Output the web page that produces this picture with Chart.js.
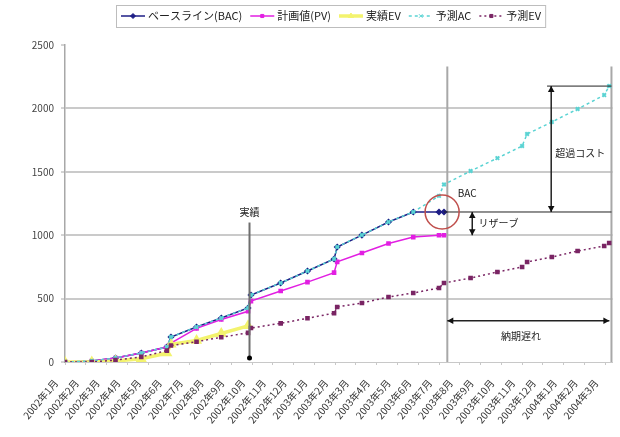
<!DOCTYPE html>
<html lang="ja">
<head>
<meta charset="utf-8">
<title>EVM 予測</title>
<script src="https://cdn.jsdelivr.net/npm/chart.js@4.4.1/dist/chart.umd.min.js"></script>
<style>
  html, body { margin: 0; padding: 0; background: #fff; }
  #wrap { width: 620px; height: 437px; }
</style>
</head>
<body>
<div id="wrap"><canvas id="evmChart" width="620" height="437"></canvas></div>
<script>
// 横軸の月ラベル
const monthLabels = [
  '2002年1月', '2002年2月', '2002年3月', '2002年4月', '2002年5月', '2002年6月',
  '2002年7月', '2002年8月', '2002年9月', '2002年10月', '2002年11月', '2002年12月',
  '2003年1月', '2003年2月', '2003年3月', '2003年4月', '2003年5月', '2003年6月',
  '2003年7月', '2003年8月', '2003年9月', '2003年10月', '2003年11月', '2003年12月',
  '2004年1月', '2004年2月', '2004年3月'
];

// 測定点の位置(2002年1月からの経過月数)
const pointMonths = [
  0, 1.29, 2.43, 3.67, 4.9, 5.1, 6.33, 7.52, 8.81, 8.95, 10.38, 11.67, 12.95, 13.1,
  14.29, 15.57, 16.76, 18.0, 18.24, 19.52, 20.81, 22.0, 22.24, 23.43, 24.67, 25.95, 26.19
];

// 各系列の値 (null = 点なし)
const bacValues = [
  0, 8, 32, 71, 118, 197, 276, 347, 426, 528, 623, 718, 812, 907,
  1001, 1104, 1183, 1183, 1183, null, null, null, null, null, null, null, null
];
const pvValues = [
  0, 8, 32, 71, 118, 150, 265, 335, 400, 480, 560, 630, 705, 790,
  860, 935, 985, 1000, 1000, null, null, null, null, null, null, null, null
];
const evValues = [
  0, 0, 8, 25, 70, 140, 170, 225, 285, null, null, null, null, null,
  null, null, null, null, null, null, null, null, null, null, null, null, null
];
const acValues = [
  0, 8, 32, 71, 118, 197, 276, 347, 426, 528, 623, 718, 812, 907,
  1001, 1104, 1183, 1310, 1400, 1506, 1608, 1703, 1798, 1893, 1995, 2105, 2176
];
const evForecastValues = [
  0, 0, 15, 40, 90, 130, 160, 195, 230, 268, 305, 345, 385, 434,
  465, 513, 544, 584, 623, 662, 710, 749, 789, 828, 875, 915, 938
];

// 注記の位置(月数)
const actualMonth = 8.88;   // 実績の区切り
const nowMonth = 18.4;      // 当初の完了予定
const endMonth = 26.3;      // 予測完了

function toPoints(values) {
  return pointMonths
    .map((m, i) => ({ x: m, y: values[i] }))
    .filter(p => p.y !== null);
}

const FONT = "'Noto Sans CJK JP', 'Noto Sans', sans-serif";

// 矢印の先端
function arrowHead(ctx, x, y, angle, size) {
  ctx.save();
  ctx.translate(x, y);
  ctx.rotate(angle);
  ctx.beginPath();
  ctx.moveTo(0, 0);
  ctx.lineTo(-size, -size * 0.55);
  ctx.lineTo(-size, size * 0.55);
  ctx.closePath();
  ctx.fill();
  ctx.restore();
}

function doubleArrow(ctx, x1, y1, x2, y2) {
  const a = Math.atan2(y2 - y1, x2 - x1);
  ctx.beginPath();
  ctx.moveTo(x1, y1);
  ctx.lineTo(x2, y2);
  ctx.stroke();
  arrowHead(ctx, x2, y2, a, 6);
  arrowHead(ctx, x1, y1, a + Math.PI, 6);
}

// 注記(縦線・矢印・円・テキスト)
const evmMarks = {
  id: 'evmMarks',
  beforeDatasetsDraw(chart) {
    const { ctx, scales: { x, y } } = chart;
    ctx.save();
    ctx.strokeStyle = '#a8a8a8';
    ctx.lineWidth = 2;
    [nowMonth, endMonth].forEach(m => {
      ctx.beginPath();
      ctx.moveTo(x.getPixelForValue(m), y.getPixelForValue(2330));
      ctx.lineTo(x.getPixelForValue(m), y.getPixelForValue(0));
      ctx.stroke();
    });
    ctx.restore();
  },
  afterDatasetsDraw(chart) {
    const { ctx, scales: { x, y } } = chart;
    const bacTotal = Math.max(...bacValues.filter(v => v !== null));
    const pvTotal = Math.max(...pvValues.filter(v => v !== null));
    const acFinal = acValues[acValues.length - 1];
    ctx.save();

    // 実績
    const ax = x.getPixelForValue(actualMonth);
    ctx.strokeStyle = '#6e6e6e';
    ctx.lineWidth = 2;
    ctx.beginPath();
    ctx.moveTo(ax, y.getPixelForValue(1100));
    ctx.lineTo(ax, y.getPixelForValue(0) - 3);
    ctx.stroke();
    ctx.fillStyle = '#000';
    ctx.beginPath();
    ctx.arc(ax, y.getPixelForValue(0) - 4, 2.5, 0, Math.PI * 2);
    ctx.fill();

    ctx.font = '10px ' + FONT;
    ctx.fillStyle = '#222';
    ctx.textAlign = 'center';
    ctx.textBaseline = 'middle';
    ctx.fillText('実績', ax, y.getPixelForValue(1100) - 10);

    // BAC 水準線と予測 AC の上端線
    ctx.strokeStyle = '#222';
    ctx.lineWidth = 1;
    ctx.beginPath();
    ctx.moveTo(x.getPixelForValue(18.24), y.getPixelForValue(bacTotal));
    ctx.lineTo(x.getPixelForValue(endMonth), y.getPixelForValue(bacTotal));
    ctx.moveTo(x.getPixelForValue(23.2), y.getPixelForValue(acFinal));
    ctx.lineTo(x.getPixelForValue(endMonth), y.getPixelForValue(acFinal));
    ctx.stroke();

    ctx.fillStyle = '#111';
    ctx.lineWidth = 1.5;
    // 超過コスト
    doubleArrow(ctx,
      x.getPixelForValue(23.4), y.getPixelForValue(acFinal),
      x.getPixelForValue(23.4), y.getPixelForValue(bacTotal));
    // リザーブ
    doubleArrow(ctx,
      x.getPixelForValue(19.6), y.getPixelForValue(bacTotal),
      x.getPixelForValue(19.6), y.getPixelForValue(pvTotal));
    // 納期遅れ
    doubleArrow(ctx,
      x.getPixelForValue(nowMonth), y.getPixelForValue(325),
      x.getPixelForValue(26.2), y.getPixelForValue(325));

    ctx.fillStyle = '#222';
    ctx.textAlign = 'left';
    ctx.fillText('超過コスト', x.getPixelForValue(23.6), y.getPixelForValue(1650));
    ctx.fillText('リザーブ', x.getPixelForValue(19.9), y.getPixelForValue((bacTotal + pvTotal) / 2));
    ctx.fillText('BAC', x.getPixelForValue(18.9), y.getPixelForValue(1335));
    ctx.textAlign = 'center';
    ctx.fillText('納期遅れ', x.getPixelForValue(21.95), y.getPixelForValue(200));

    // BAC 到達点の円
    ctx.strokeStyle = '#c0504d';
    ctx.lineWidth = 1.5;
    ctx.beginPath();
    ctx.arc(x.getPixelForValue(18.15), y.getPixelForValue(bacTotal), 17, 0, Math.PI * 2);
    ctx.stroke();
    ctx.restore();
  }
};

// 凡例 (線+マーカー)
const evmLegend = {
  id: 'evmLegend',
  afterDraw(chart) {
    const ctx = chart.ctx;
    const sets = chart.data.datasets;
    const symW = 24, gap = 3, itemGap = 8, cy = 16;
    ctx.save();
    ctx.font = '11px ' + FONT;
    let total = 0;
    sets.forEach((ds, i) => {
      total += symW + gap + ctx.measureText(ds.label).width + (i ? itemGap : 0);
    });
    let cx = 121;
    ctx.strokeStyle = '#bdbdbd';
    ctx.lineWidth = 1;
    ctx.strokeRect(cx - 4.5, 5.5, total + 9, 22);
    sets.forEach(ds => {
      ctx.save();
      ctx.strokeStyle = ds.borderColor;
      ctx.lineWidth = ds.borderWidth;
      ctx.setLineDash(ds.borderDash || []);
      ctx.beginPath();
      ctx.moveTo(cx, cy);
      ctx.lineTo(cx + symW, cy);
      ctx.stroke();
      ctx.setLineDash([]);
      ctx.fillStyle = ds.backgroundColor;
      ctx.strokeStyle = ds.borderColor;
      ctx.lineWidth = 1;
      Chart.helpers.drawPoint(ctx, { pointStyle: ds.pointStyle, radius: ds.pointRadius, borderWidth: 1 }, cx + symW / 2, cy);
      ctx.restore();
      ctx.fillStyle = '#222';
      ctx.textBaseline = 'middle';
      ctx.fillText(ds.label, cx + symW + gap, cy);
      cx += symW + gap + ctx.measureText(ds.label).width + itemGap;
    });
    ctx.restore();
  }
};

const ctx = document.getElementById('evmChart').getContext('2d');
const evmChart = new Chart(ctx, {
  type: 'line',
  data: {
    datasets: [
      {
        label: 'ベースライン(BAC)',
        data: toPoints(bacValues),
        borderColor: '#1e1e86',
        backgroundColor: '#1e1e86',
        borderWidth: 1.5,
        pointStyle: 'rectRot',
        pointRadius: 2.5,
        order: 5
      },
      {
        label: '計画値(PV)',
        data: toPoints(pvValues),
        borderColor: '#e21fe2',
        backgroundColor: '#e21fe2',
        borderWidth: 1.5,
        pointStyle: 'rect',
        pointRadius: 2.2,
        order: 4
      },
      {
        label: '実績EV',
        data: toPoints(evValues),
        borderColor: '#f3f36e',
        backgroundColor: '#f3f36e',
        borderWidth: 3.5,
        pointStyle: 'triangle',
        pointRadius: 3,
        order: 3
      },
      {
        label: '予測AC',
        data: toPoints(acValues),
        borderColor: '#5ad3d3',
        backgroundColor: '#5ad3d3',
        borderWidth: 1.5,
        borderDash: [3, 3],
        pointStyle: 'crossRot',
        pointRadius: 2.5,
        pointBorderWidth: 2,
        order: 2
      },
      {
        label: '予測EV',
        data: toPoints(evForecastValues),
        borderColor: '#7a2564',
        backgroundColor: '#7a2564',
        borderWidth: 1.5,
        borderDash: [2, 3],
        pointStyle: 'rect',
        pointRadius: 2.2,
        order: 1
      }
    ]
  },
  options: {
    responsive: false,
    animation: false,
    devicePixelRatio: 1,
    layout: { padding: { top: 45, right: 3, left: 0, bottom: 0 } },
    plugins: {
      legend: { display: false },
      tooltip: { enabled: false }
    },
    scales: {
      x: {
        type: 'linear',
        min: 0,
        max: 26.35,
        afterFit: scale => {
          scale.height = 75;
          scale.paddingLeft = 0;
          scale.paddingRight = 0;
        },
        afterBuildTicks: scale => {
          scale.ticks = monthLabels.map((_, i) => ({ value: i }));
        },
        border: { color: '#c8c8c8', width: 1 },
        grid: { drawOnChartArea: false, tickLength: 3, color: '#c8c8c8' },
        ticks: {
          autoSkip: false,
          minRotation: 50,
          maxRotation: 50,
          labelOffset: -9,
          padding: 12,
          color: '#333',
          font: { family: FONT, size: 10 },
          callback: v => monthLabels[Math.round(v)]
        }
      },
      y: {
        min: 0,
        max: 2500,
        afterFit: scale => { scale.width = 65; },
        border: { color: '#a8a8a8', width: 1.5 },
        grid: {
          color: c => (c.tick.value === 2500 || c.tick.value === 0) ? 'rgba(0,0,0,0)' : '#cacaca',
          lineWidth: 2,
          tickLength: 4,
          tickColor: '#a8a8a8',
          tickWidth: 1
        },
        ticks: {
          stepSize: 500,
          padding: 7,
          color: '#444',
          font: { family: FONT, size: 10 },
          callback: v => String(v)
        }
      }
    }
  },
  plugins: [evmMarks, evmLegend]
});
</script>
</body>
</html>
